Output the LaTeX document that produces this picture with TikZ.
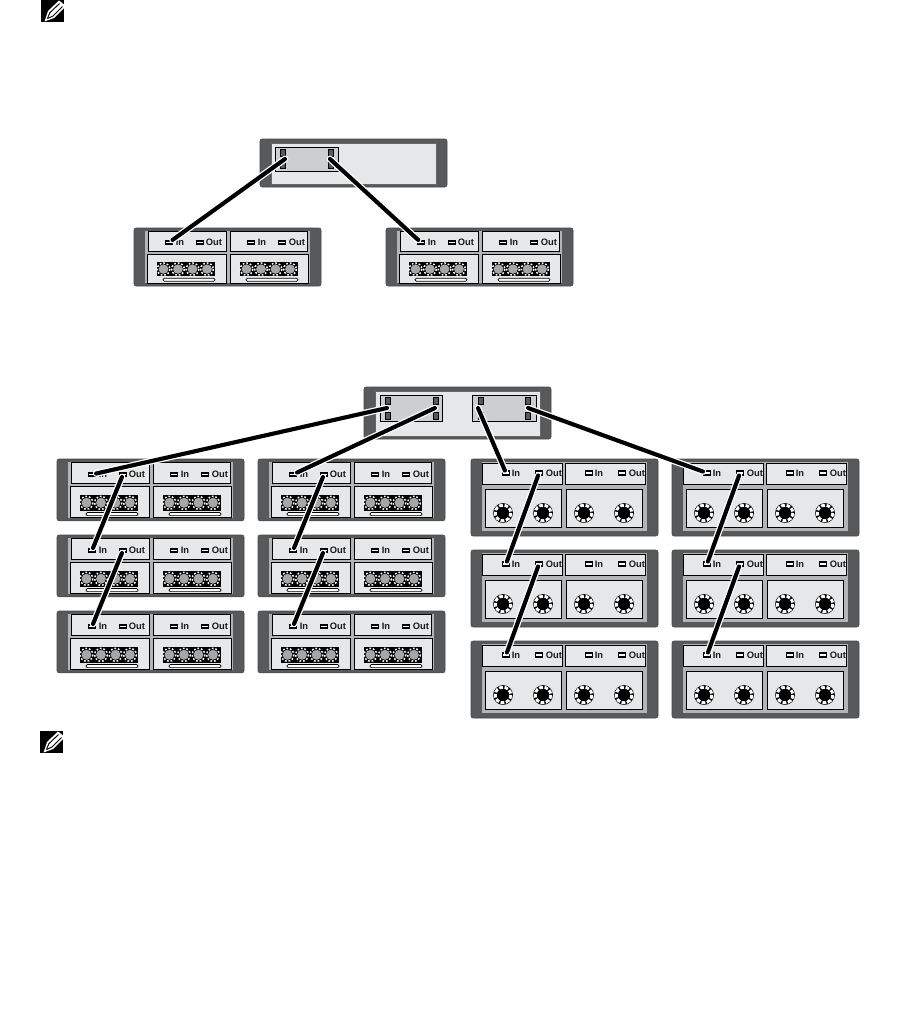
\documentclass[tikz,border=0pt]{standalone}
\usepackage{fontspec}
\setmainfont{Liberation Sans}
\definecolor{chassis}{HTML}{58595B}
\definecolor{frameg}{HTML}{B3B4B6}
\definecolor{panel}{HTML}{E6E7E8}
\definecolor{modg}{HTML}{CDCED0}
\tikzset{
  chassisbox/.style={fill=chassis,draw=chassis!80!black,line width=.4pt,rounded corners=1.5pt},
  framebox/.style={fill=frameg,draw=none},
  panelbox/.style={fill=panel,draw=black,line width=.55pt},
  modbox/.style={fill=modg,draw=black,line width=.55pt},
  portbox/.style={draw=black,fill=white,line width=1.2pt,inner sep=0pt,minimum width=5pt,minimum height=2.6pt},
  ctlport/.style={draw=black,fill=chassis,line width=.7pt,inner sep=0pt,minimum width=3.2pt,minimum height=4.8pt},
  lbl/.style={font=\bfseries\fontsize{7}{8}\selectfont,inner sep=0pt,text=black!90},
  cable/.style={line width=3.1pt,draw=black,line cap=round,preaction={draw=white,line width=5pt,line cap=round}},
  pencil/.style={fill=white,draw=none}
}
% enclosure with fan panels
\newcommand{\shelfA}[4]{%
\begin{scope}[shift={(#2,#3)},yscale=#4,name prefix=#1-]
  \draw[chassisbox] (0,0) rectangle (187,60);
  \fill[framebox] (11,3) rectangle (176,57);
  \draw[panelbox] (14,3) rectangle (92,24);
  \draw[panelbox] (96,3) rectangle (173,24);
  \draw[panelbox] (13,27) rectangle (92,57);
  \draw[panelbox] (96,27) rectangle (174,57);
  \foreach \dx in {0,83}{
    \fill[black] ({23+\dx},35) rectangle ({81+\dx},50);
    \foreach \cx in {29.5,44,58.5,73}{
      \draw[white,line width=1.1pt,dash pattern=on 1.3pt off 1.4pt] ({\cx+\dx},42.5) circle (6.3);
      \fill[gray!70] ({\cx+\dx},42.5) circle (4.9);
    }
    \draw[fill=white,draw=black,line width=.5pt,rounded corners=1pt] ({29+\dx},52) rectangle ({81+\dx},55);
  }
  \node[portbox] (in) at (35,15) {};
  \node[portbox] (out) at (66,15) {};
  \node[portbox] (in2) at (117,15) {};
  \node[portbox] (out2) at (148,15) {};
  \node[lbl] (intxt) at (46,15) {In};
  \node[lbl] (outtxt) at (80,15) {Out};
  \node[lbl] (intxt2) at (128,15) {In};
  \node[lbl] (outtxt2) at (163,15) {Out};
\end{scope}}
% enclosure with connector panels
\newcommand{\shelfB}[3]{%
\begin{scope}[shift={(#2,#3)},name prefix=#1-]
  \draw[chassisbox] (0,0) rectangle (187,77);
  \fill[framebox] (11,3) rectangle (176,72);
  \draw[panelbox] (11,4) rectangle (91,25);
  \draw[panelbox] (94,4) rectangle (174,25);
  \draw[panelbox] (14,30) rectangle (90,68);
  \draw[panelbox] (95,30) rectangle (171,68);
  \foreach \cx in {32,72,113,153}{
    \fill[black] (\cx,54) circle (9.9);
    \draw[white,line width=2.2pt,dash pattern=on 2.8pt off 1.28pt] (\cx,54) circle (7.8);
    \fill[black] (\cx,54) circle (5.8);
  }
  \node[portbox] (in) at (35,14) {};
  \node[portbox] (out) at (68,14) {};
  \node[portbox] (in2) at (118,14) {};
  \node[portbox] (out2) at (151,14) {};
  \node[lbl] (intxt) at (45,14) {In};
  \node[lbl] (outtxt) at (83,14) {Out};
  \node[lbl] (intxt2) at (128,14) {In};
  \node[lbl] (outtxt2) at (166,14) {Out};
\end{scope}}
% note icon
\newcommand{\noteicon}[3]{%
\begin{scope}[shift={(#2,#3)},name prefix=#1-]
  \fill[black] (0,0) rectangle (23,22);
  \path[pencil] (3.5,21.5) -- (7,11) -- (18,0.5) -- (25,6) -- (13,18) -- cycle;
  \draw[black,line width=.7pt] (6.5,18.5) -- (8.8,12.8) -- (18.5,3.5);
  \draw[black,line width=.7pt] (6.5,18.5) -- (11.8,16.2) -- (21.5,6.5);
\end{scope}}
\begin{document}
\begin{tikzpicture}[x=0.75pt,y=-0.75pt]
\useasboundingbox (0,0) rectangle (900,1036);
\noteicon{noteA}{41}{0}
\noteicon{noteB}{40}{731}

% upper controller
\draw[chassisbox] (260,139) rectangle (447,187);
\draw[fill=panel,draw=black!60,line width=.4pt] (271,143) rectangle (436,184);
\draw[modbox] (275,147) rectangle (338,171);
\node[ctlport] (ua) at (283,153) {};
\node[ctlport] (ub) at (331,153) {};
\node[ctlport] (uc) at (283,165) {};
\node[ctlport] (ud) at (331,165) {};
\coordinate (uaj) at (285,159);
\coordinate (ubj) at (330,159);

\shelfA{t1}{134}{228}{0.967}
\shelfA{t2}{386}{228}{0.967}
\draw[cable] (uaj) -- (t1-in);
\draw[cable] (ubj) -- (t2-in);

% lower controller
\draw[chassisbox] (364,387) rectangle (551,439);
\draw[fill=panel,draw=black!60,line width=.4pt] (375,391) rectangle (540,436);
\draw[modbox] (380,395) rectangle (442,421);
\draw[modbox] (472,395) rectangle (536,421);
\foreach \n/\px in {a/388,b/436,c/481,d/528}{
  \node[ctlport] (l\n t) at (\px,401) {};
  \node[ctlport] (l\n b) at (\px,416) {};
}
\coordinate (lac) at (387,408);
\coordinate (lbc) at (435,408);
\coordinate (lcc) at (478,408);
\coordinate (ldc) at (528,408);

\shelfA{a1}{57}{459}{1.03}
\shelfA{a2}{57}{535}{1.03}
\shelfA{a3}{57}{611}{1.03}
\shelfA{b1}{258}{459}{1.03}
\shelfA{b2}{258}{535}{1.03}
\shelfA{b3}{258}{611}{1.03}
\shelfB{c1}{471}{459}
\shelfB{c2}{471}{550}
\shelfB{c3}{471}{641}
\shelfB{d1}{672}{459}
\shelfB{d2}{672}{550}
\shelfB{d3}{672}{641}

\draw[cable] (a1-out) -- (a2-in);
\draw[cable] (a2-out) -- (a3-in);
\draw[cable] (b1-out) -- (b2-in);
\draw[cable] (b2-out) -- (b3-in);
\draw[cable] (c1-out) -- (c2-in);
\draw[cable] (c2-out) -- (c3-in);
\draw[cable] (d1-out) -- (d2-in);
\draw[cable] (d2-out) -- (d3-in);
\draw[cable] (lac) -- (a1-in);
\draw[cable] (lbc) -- (b1-in);
\draw[cable] (lcc) -- (c1-in);
\draw[cable] (ldc) -- (d1-in);
\end{tikzpicture}
\end{document}
